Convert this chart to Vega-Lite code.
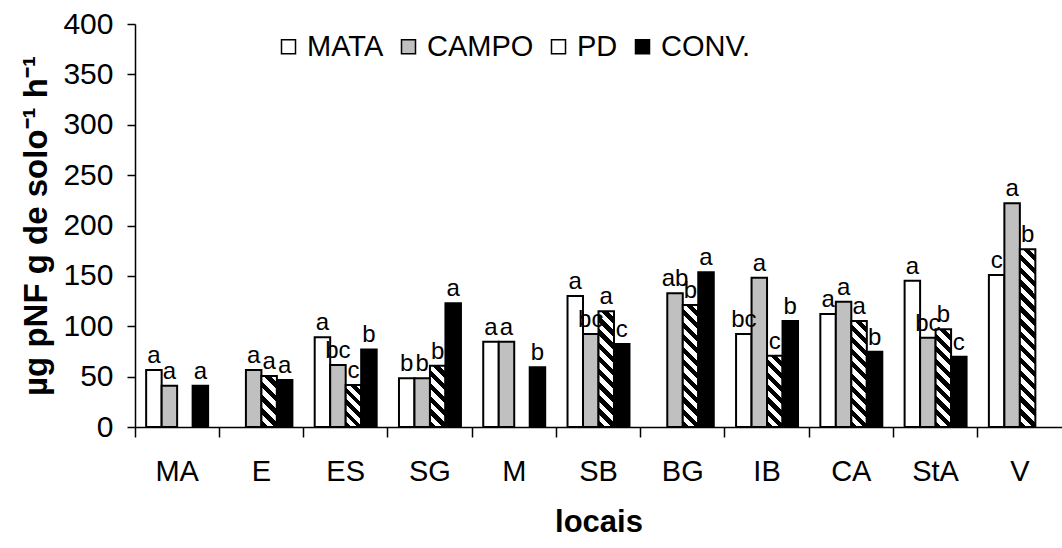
{
  "$schema": "https://vega.github.io/schema/vega-lite/v6.json",
  "width": 927,
  "height": 403,
  "autosize": {"type": "none"},
  "padding": {"left": 135, "top": 24, "right": 0, "bottom": 121},
  "background": "white",
  "config": {
    "view": {"stroke": null},
    "font": "Liberation Sans",
    "axis": {"domainColor": "black", "tickColor": "black", "labelColor": "black", "titleColor": "black", "domainWidth": 1.5, "tickWidth": 1.5, "labelFont": "Liberation Sans", "titleFont": "Liberation Sans"}
  },
  "data": {
    "values": [
      {"local": "MA", "serie": "MATA", "valor": 56.6, "letra": "a"},
      {"local": "MA", "serie": "CAMPO", "valor": 41, "letra": "a"},
      {"local": "MA", "serie": "CONV", "valor": 41, "letra": "a"},
      {"local": "E", "serie": "CAMPO", "valor": 56.6, "letra": "a"},
      {"local": "E", "serie": "PD", "valor": 50.6, "letra": "a"},
      {"local": "E", "serie": "CONV", "valor": 46.6, "letra": "a"},
      {"local": "ES", "serie": "MATA", "valor": 89, "letra": "a"},
      {"local": "ES", "serie": "CAMPO", "valor": 61.5, "letra": "bc"},
      {"local": "ES", "serie": "PD", "valor": 41.7, "letra": "c"},
      {"local": "ES", "serie": "CONV", "valor": 77, "letra": "b"},
      {"local": "SG", "serie": "MATA", "valor": 48.3, "letra": "b"},
      {"local": "SG", "serie": "CAMPO", "valor": 48.3, "letra": "b"},
      {"local": "SG", "serie": "PD", "valor": 60.8, "letra": "b"},
      {"local": "SG", "serie": "CONV", "valor": 122.8, "letra": "a"},
      {"local": "M", "serie": "MATA", "valor": 84.7, "letra": "a"},
      {"local": "M", "serie": "CAMPO", "valor": 84.7, "letra": "a"},
      {"local": "M", "serie": "CONV", "valor": 59.3, "letra": "b"},
      {"local": "SB", "serie": "MATA", "valor": 130, "letra": "a"},
      {"local": "SB", "serie": "CAMPO", "valor": 92.3, "letra": "bc"},
      {"local": "SB", "serie": "PD", "valor": 115, "letra": "a"},
      {"local": "SB", "serie": "CONV", "valor": 82.4, "letra": "c"},
      {"local": "BG", "serie": "CAMPO", "valor": 132.7, "letra": "ab"},
      {"local": "BG", "serie": "PD", "valor": 121, "letra": "b"},
      {"local": "BG", "serie": "CONV", "valor": 153.5, "letra": "a"},
      {"local": "IB", "serie": "MATA", "valor": 92.3, "letra": "bc"},
      {"local": "IB", "serie": "CAMPO", "valor": 148.2, "letra": "a"},
      {"local": "IB", "serie": "PD", "valor": 70.8, "letra": "c"},
      {"local": "IB", "serie": "CONV", "valor": 105.2, "letra": "b"},
      {"local": "CA", "serie": "MATA", "valor": 112.2, "letra": "a"},
      {"local": "CA", "serie": "CAMPO", "valor": 124.4, "letra": "a"},
      {"local": "CA", "serie": "PD", "valor": 105.2, "letra": "a"},
      {"local": "CA", "serie": "CONV", "valor": 74.7, "letra": "b"},
      {"local": "StA", "serie": "MATA", "valor": 145.2, "letra": "a"},
      {"local": "StA", "serie": "CAMPO", "valor": 88.6, "letra": "bc"},
      {"local": "StA", "serie": "PD", "valor": 97, "letra": "b"},
      {"local": "StA", "serie": "CONV", "valor": 69.8, "letra": "c"},
      {"local": "V", "serie": "MATA", "valor": 150.9, "letra": "c"},
      {"local": "V", "serie": "CAMPO", "valor": 222, "letra": "a"},
      {"local": "V", "serie": "PD", "valor": 176.4, "letra": "b"}
    ]
  },
  "encoding": {
    "x": {
      "field": "local", "type": "nominal",
      "sort": ["MA", "E", "ES", "SG", "M", "SB", "BG", "IB", "CA", "StA", "V"],
      "scale": {"paddingInner": 0, "paddingOuter": 0},
      "axis": {"title": "locais", "labelAngle": 0, "bandPosition": 0, "tickSize": 10, "labelFontSize": 29, "labelPadding": 20, "titleFontSize": 31, "titleFontWeight": "bold", "titlePadding": 21}
    },
    "xOffset": {
      "field": "serie", "type": "nominal",
      "scale": {"domain": ["MATA", "CAMPO", "PD", "CONV"], "paddingInner": 0, "paddingOuter": 0.72}
    },
    "y": {
      "field": "valor", "type": "quantitative",
      "scale": {"domain": [0, 400], "nice": false},
      "axis": {"title": "µg pNF g de solo⁻¹ h⁻¹", "values": [0, 50, 100, 150, 200, 250, 300, 350, 400], "grid": false, "tickSize": 8, "labelFontSize": 30, "labelPadding": 14, "titleFontSize": 33, "titleFontWeight": "bold", "titlePadding": 9}
    }
  },
  "layer": [
    {
      "mark": {"type": "bar", "stroke": "black", "strokeWidth": 2},
      "encoding": {
        "fill": {
          "field": "serie", "type": "nominal",
          "scale": {"domain": ["MATA", "CAMPO", "PD", "CONV"], "range": ["#ffffff", "#c0c0c0", "#ffffff", "#000000"]},
          "legend": {
            "title": null, "orient": "none", "legendX": 139, "legendY": 8, "direction": "horizontal",
            "symbolType": "square", "symbolSize": 196, "symbolStrokeColor": "black", "symbolStrokeWidth": 1.5, "symbolOpacity": 1,
            "labelFontSize": 29, "labelFont": "Liberation Sans", "labelColor": "black", "labelOffset": 4, "columnPadding": 10, "padding": 0,
            "labelExpr": "datum.label === 'CONV' ? 'CONV.' : datum.label"
          },
          "condition": [
            {"test": "datum.serie === 'PD' && datum.local === 'E'", "value": {"gradient": "linear", "x1": 0, "y1": 1, "x2": 0.3628, "y2": -0.1937, "stops": [{"offset": 0, "color": "#000"}, {"offset": 0.1, "color": "#000"}, {"offset": 0.1, "color": "#fff"}, {"offset": 0.2, "color": "#fff"}, {"offset": 0.2, "color": "#000"}, {"offset": 0.3, "color": "#000"}, {"offset": 0.3, "color": "#fff"}, {"offset": 0.4, "color": "#fff"}, {"offset": 0.4, "color": "#000"}, {"offset": 0.5, "color": "#000"}, {"offset": 0.5, "color": "#fff"}, {"offset": 0.6, "color": "#fff"}, {"offset": 0.6, "color": "#000"}, {"offset": 0.7, "color": "#000"}, {"offset": 0.7, "color": "#fff"}, {"offset": 0.8, "color": "#fff"}, {"offset": 0.8, "color": "#000"}, {"offset": 0.9, "color": "#000"}, {"offset": 0.9, "color": "#fff"}, {"offset": 1, "color": "#fff"}]}},
            {"test": "datum.serie === 'PD' && datum.local === 'ES'", "value": {"gradient": "linear", "x1": 0, "y1": 1, "x2": 0.4447, "y2": -0.2049, "stops": [{"offset": 0, "color": "#000"}, {"offset": 0.1, "color": "#000"}, {"offset": 0.1, "color": "#fff"}, {"offset": 0.2, "color": "#fff"}, {"offset": 0.2, "color": "#000"}, {"offset": 0.3, "color": "#000"}, {"offset": 0.3, "color": "#fff"}, {"offset": 0.4, "color": "#fff"}, {"offset": 0.4, "color": "#000"}, {"offset": 0.5, "color": "#000"}, {"offset": 0.5, "color": "#fff"}, {"offset": 0.6, "color": "#fff"}, {"offset": 0.6, "color": "#000"}, {"offset": 0.7, "color": "#000"}, {"offset": 0.7, "color": "#fff"}, {"offset": 0.8, "color": "#fff"}, {"offset": 0.8, "color": "#000"}, {"offset": 0.9, "color": "#000"}, {"offset": 0.9, "color": "#fff"}, {"offset": 1, "color": "#fff"}]}},
            {"test": "datum.serie === 'PD' && datum.local === 'SG'", "value": {"gradient": "linear", "x1": 0, "y1": 1, "x2": 0.2978, "y2": -0.1776, "stops": [{"offset": 0, "color": "#000"}, {"offset": 0.0833, "color": "#000"}, {"offset": 0.0833, "color": "#fff"}, {"offset": 0.1667, "color": "#fff"}, {"offset": 0.1667, "color": "#000"}, {"offset": 0.25, "color": "#000"}, {"offset": 0.25, "color": "#fff"}, {"offset": 0.3333, "color": "#fff"}, {"offset": 0.3333, "color": "#000"}, {"offset": 0.4167, "color": "#000"}, {"offset": 0.4167, "color": "#fff"}, {"offset": 0.5, "color": "#fff"}, {"offset": 0.5, "color": "#000"}, {"offset": 0.5833, "color": "#000"}, {"offset": 0.5833, "color": "#fff"}, {"offset": 0.6667, "color": "#fff"}, {"offset": 0.6667, "color": "#000"}, {"offset": 0.75, "color": "#000"}, {"offset": 0.75, "color": "#fff"}, {"offset": 0.8333, "color": "#fff"}, {"offset": 0.8333, "color": "#000"}, {"offset": 0.9167, "color": "#000"}, {"offset": 0.9167, "color": "#fff"}, {"offset": 1, "color": "#fff"}]}},
            {"test": "datum.serie === 'PD' && datum.local === 'SB'", "value": {"gradient": "linear", "x1": 0, "y1": 1, "x2": 0.149, "y2": -0.1138, "stops": [{"offset": 0, "color": "#000"}, {"offset": 0.05, "color": "#000"}, {"offset": 0.05, "color": "#fff"}, {"offset": 0.1, "color": "#fff"}, {"offset": 0.1, "color": "#000"}, {"offset": 0.15, "color": "#000"}, {"offset": 0.15, "color": "#fff"}, {"offset": 0.2, "color": "#fff"}, {"offset": 0.2, "color": "#000"}, {"offset": 0.25, "color": "#000"}, {"offset": 0.25, "color": "#fff"}, {"offset": 0.3, "color": "#fff"}, {"offset": 0.3, "color": "#000"}, {"offset": 0.35, "color": "#000"}, {"offset": 0.35, "color": "#fff"}, {"offset": 0.4, "color": "#fff"}, {"offset": 0.4, "color": "#000"}, {"offset": 0.45, "color": "#000"}, {"offset": 0.45, "color": "#fff"}, {"offset": 0.5, "color": "#fff"}, {"offset": 0.5, "color": "#000"}, {"offset": 0.55, "color": "#000"}, {"offset": 0.55, "color": "#fff"}, {"offset": 0.6, "color": "#fff"}, {"offset": 0.6, "color": "#000"}, {"offset": 0.65, "color": "#000"}, {"offset": 0.65, "color": "#fff"}, {"offset": 0.7, "color": "#fff"}, {"offset": 0.7, "color": "#000"}, {"offset": 0.75, "color": "#000"}, {"offset": 0.75, "color": "#fff"}, {"offset": 0.8, "color": "#fff"}, {"offset": 0.8, "color": "#000"}, {"offset": 0.85, "color": "#000"}, {"offset": 0.85, "color": "#fff"}, {"offset": 0.9, "color": "#fff"}, {"offset": 0.9, "color": "#000"}, {"offset": 0.95, "color": "#000"}, {"offset": 0.95, "color": "#fff"}, {"offset": 1, "color": "#fff"}]}},
            {"test": "datum.serie === 'PD' && datum.local === 'BG'", "value": {"gradient": "linear", "x1": 0, "y1": 1, "x2": 0.141, "y2": -0.1092, "stops": [{"offset": 0, "color": "#000"}, {"offset": 0.0455, "color": "#000"}, {"offset": 0.0455, "color": "#fff"}, {"offset": 0.0909, "color": "#fff"}, {"offset": 0.0909, "color": "#000"}, {"offset": 0.1364, "color": "#000"}, {"offset": 0.1364, "color": "#fff"}, {"offset": 0.1818, "color": "#fff"}, {"offset": 0.1818, "color": "#000"}, {"offset": 0.2273, "color": "#000"}, {"offset": 0.2273, "color": "#fff"}, {"offset": 0.2727, "color": "#fff"}, {"offset": 0.2727, "color": "#000"}, {"offset": 0.3182, "color": "#000"}, {"offset": 0.3182, "color": "#fff"}, {"offset": 0.3636, "color": "#fff"}, {"offset": 0.3636, "color": "#000"}, {"offset": 0.4091, "color": "#000"}, {"offset": 0.4091, "color": "#fff"}, {"offset": 0.4545, "color": "#fff"}, {"offset": 0.4545, "color": "#000"}, {"offset": 0.5, "color": "#000"}, {"offset": 0.5, "color": "#fff"}, {"offset": 0.5455, "color": "#fff"}, {"offset": 0.5455, "color": "#000"}, {"offset": 0.5909, "color": "#000"}, {"offset": 0.5909, "color": "#fff"}, {"offset": 0.6364, "color": "#fff"}, {"offset": 0.6364, "color": "#000"}, {"offset": 0.6818, "color": "#000"}, {"offset": 0.6818, "color": "#fff"}, {"offset": 0.7273, "color": "#fff"}, {"offset": 0.7273, "color": "#000"}, {"offset": 0.7727, "color": "#000"}, {"offset": 0.7727, "color": "#fff"}, {"offset": 0.8182, "color": "#fff"}, {"offset": 0.8182, "color": "#000"}, {"offset": 0.8636, "color": "#000"}, {"offset": 0.8636, "color": "#fff"}, {"offset": 0.9091, "color": "#fff"}, {"offset": 0.9091, "color": "#000"}, {"offset": 0.9545, "color": "#000"}, {"offset": 0.9545, "color": "#fff"}, {"offset": 1, "color": "#fff"}]}},
            {"test": "datum.serie === 'PD' && datum.local === 'IB'", "value": {"gradient": "linear", "x1": 0, "y1": 1, "x2": 0.2527, "y2": -0.1625, "stops": [{"offset": 0, "color": "#000"}, {"offset": 0.0714, "color": "#000"}, {"offset": 0.0714, "color": "#fff"}, {"offset": 0.1429, "color": "#fff"}, {"offset": 0.1429, "color": "#000"}, {"offset": 0.2143, "color": "#000"}, {"offset": 0.2143, "color": "#fff"}, {"offset": 0.2857, "color": "#fff"}, {"offset": 0.2857, "color": "#000"}, {"offset": 0.3571, "color": "#000"}, {"offset": 0.3571, "color": "#fff"}, {"offset": 0.4286, "color": "#fff"}, {"offset": 0.4286, "color": "#000"}, {"offset": 0.5, "color": "#000"}, {"offset": 0.5, "color": "#fff"}, {"offset": 0.5714, "color": "#fff"}, {"offset": 0.5714, "color": "#000"}, {"offset": 0.6429, "color": "#000"}, {"offset": 0.6429, "color": "#fff"}, {"offset": 0.7143, "color": "#fff"}, {"offset": 0.7143, "color": "#000"}, {"offset": 0.7857, "color": "#000"}, {"offset": 0.7857, "color": "#fff"}, {"offset": 0.8571, "color": "#fff"}, {"offset": 0.8571, "color": "#000"}, {"offset": 0.9286, "color": "#000"}, {"offset": 0.9286, "color": "#fff"}, {"offset": 1, "color": "#fff"}]}},
            {"test": "datum.serie === 'PD' && datum.local === 'CA'", "value": {"gradient": "linear", "x1": 0, "y1": 1, "x2": 0.1641, "y2": -0.1222, "stops": [{"offset": 0, "color": "#000"}, {"offset": 0.05, "color": "#000"}, {"offset": 0.05, "color": "#fff"}, {"offset": 0.1, "color": "#fff"}, {"offset": 0.1, "color": "#000"}, {"offset": 0.15, "color": "#000"}, {"offset": 0.15, "color": "#fff"}, {"offset": 0.2, "color": "#fff"}, {"offset": 0.2, "color": "#000"}, {"offset": 0.25, "color": "#000"}, {"offset": 0.25, "color": "#fff"}, {"offset": 0.3, "color": "#fff"}, {"offset": 0.3, "color": "#000"}, {"offset": 0.35, "color": "#000"}, {"offset": 0.35, "color": "#fff"}, {"offset": 0.4, "color": "#fff"}, {"offset": 0.4, "color": "#000"}, {"offset": 0.45, "color": "#000"}, {"offset": 0.45, "color": "#fff"}, {"offset": 0.5, "color": "#fff"}, {"offset": 0.5, "color": "#000"}, {"offset": 0.55, "color": "#000"}, {"offset": 0.55, "color": "#fff"}, {"offset": 0.6, "color": "#fff"}, {"offset": 0.6, "color": "#000"}, {"offset": 0.65, "color": "#000"}, {"offset": 0.65, "color": "#fff"}, {"offset": 0.7, "color": "#fff"}, {"offset": 0.7, "color": "#000"}, {"offset": 0.75, "color": "#000"}, {"offset": 0.75, "color": "#fff"}, {"offset": 0.8, "color": "#fff"}, {"offset": 0.8, "color": "#000"}, {"offset": 0.85, "color": "#000"}, {"offset": 0.85, "color": "#fff"}, {"offset": 0.9, "color": "#fff"}, {"offset": 0.9, "color": "#000"}, {"offset": 0.95, "color": "#000"}, {"offset": 0.95, "color": "#fff"}, {"offset": 1, "color": "#fff"}]}},
            {"test": "datum.serie === 'PD' && datum.local === 'StA'", "value": {"gradient": "linear", "x1": 0, "y1": 1, "x2": 0.1793, "y2": -0.1302, "stops": [{"offset": 0, "color": "#000"}, {"offset": 0.0556, "color": "#000"}, {"offset": 0.0556, "color": "#fff"}, {"offset": 0.1111, "color": "#fff"}, {"offset": 0.1111, "color": "#000"}, {"offset": 0.1667, "color": "#000"}, {"offset": 0.1667, "color": "#fff"}, {"offset": 0.2222, "color": "#fff"}, {"offset": 0.2222, "color": "#000"}, {"offset": 0.2778, "color": "#000"}, {"offset": 0.2778, "color": "#fff"}, {"offset": 0.3333, "color": "#fff"}, {"offset": 0.3333, "color": "#000"}, {"offset": 0.3889, "color": "#000"}, {"offset": 0.3889, "color": "#fff"}, {"offset": 0.4444, "color": "#fff"}, {"offset": 0.4444, "color": "#000"}, {"offset": 0.5, "color": "#000"}, {"offset": 0.5, "color": "#fff"}, {"offset": 0.5556, "color": "#fff"}, {"offset": 0.5556, "color": "#000"}, {"offset": 0.6111, "color": "#000"}, {"offset": 0.6111, "color": "#fff"}, {"offset": 0.6667, "color": "#fff"}, {"offset": 0.6667, "color": "#000"}, {"offset": 0.7222, "color": "#000"}, {"offset": 0.7222, "color": "#fff"}, {"offset": 0.7778, "color": "#fff"}, {"offset": 0.7778, "color": "#000"}, {"offset": 0.8333, "color": "#000"}, {"offset": 0.8333, "color": "#fff"}, {"offset": 0.8889, "color": "#fff"}, {"offset": 0.8889, "color": "#000"}, {"offset": 0.9444, "color": "#000"}, {"offset": 0.9444, "color": "#fff"}, {"offset": 1, "color": "#fff"}]}},
            {"test": "datum.serie === 'PD' && datum.local === 'V'", "value": {"gradient": "linear", "x1": 0, "y1": 1, "x2": 0.0941, "y2": -0.079, "stops": [{"offset": 0, "color": "#000"}, {"offset": 0.0333, "color": "#000"}, {"offset": 0.0333, "color": "#fff"}, {"offset": 0.0667, "color": "#fff"}, {"offset": 0.0667, "color": "#000"}, {"offset": 0.1, "color": "#000"}, {"offset": 0.1, "color": "#fff"}, {"offset": 0.1333, "color": "#fff"}, {"offset": 0.1333, "color": "#000"}, {"offset": 0.1667, "color": "#000"}, {"offset": 0.1667, "color": "#fff"}, {"offset": 0.2, "color": "#fff"}, {"offset": 0.2, "color": "#000"}, {"offset": 0.2333, "color": "#000"}, {"offset": 0.2333, "color": "#fff"}, {"offset": 0.2667, "color": "#fff"}, {"offset": 0.2667, "color": "#000"}, {"offset": 0.3, "color": "#000"}, {"offset": 0.3, "color": "#fff"}, {"offset": 0.3333, "color": "#fff"}, {"offset": 0.3333, "color": "#000"}, {"offset": 0.3667, "color": "#000"}, {"offset": 0.3667, "color": "#fff"}, {"offset": 0.4, "color": "#fff"}, {"offset": 0.4, "color": "#000"}, {"offset": 0.4333, "color": "#000"}, {"offset": 0.4333, "color": "#fff"}, {"offset": 0.4667, "color": "#fff"}, {"offset": 0.4667, "color": "#000"}, {"offset": 0.5, "color": "#000"}, {"offset": 0.5, "color": "#fff"}, {"offset": 0.5333, "color": "#fff"}, {"offset": 0.5333, "color": "#000"}, {"offset": 0.5667, "color": "#000"}, {"offset": 0.5667, "color": "#fff"}, {"offset": 0.6, "color": "#fff"}, {"offset": 0.6, "color": "#000"}, {"offset": 0.6333, "color": "#000"}, {"offset": 0.6333, "color": "#fff"}, {"offset": 0.6667, "color": "#fff"}, {"offset": 0.6667, "color": "#000"}, {"offset": 0.7, "color": "#000"}, {"offset": 0.7, "color": "#fff"}, {"offset": 0.7333, "color": "#fff"}, {"offset": 0.7333, "color": "#000"}, {"offset": 0.7667, "color": "#000"}, {"offset": 0.7667, "color": "#fff"}, {"offset": 0.8, "color": "#fff"}, {"offset": 0.8, "color": "#000"}, {"offset": 0.8333, "color": "#000"}, {"offset": 0.8333, "color": "#fff"}, {"offset": 0.8667, "color": "#fff"}, {"offset": 0.8667, "color": "#000"}, {"offset": 0.9, "color": "#000"}, {"offset": 0.9, "color": "#fff"}, {"offset": 0.9333, "color": "#fff"}, {"offset": 0.9333, "color": "#000"}, {"offset": 0.9667, "color": "#000"}, {"offset": 0.9667, "color": "#fff"}, {"offset": 1, "color": "#fff"}]}}
          ]
        }
      }
    },
    {
      "mark": {"type": "text", "baseline": "bottom", "dy": -2, "fontSize": 24, "font": "Liberation Sans", "color": "black"},
      "encoding": {"text": {"field": "letra", "type": "nominal"}}
    }
  ]
}
